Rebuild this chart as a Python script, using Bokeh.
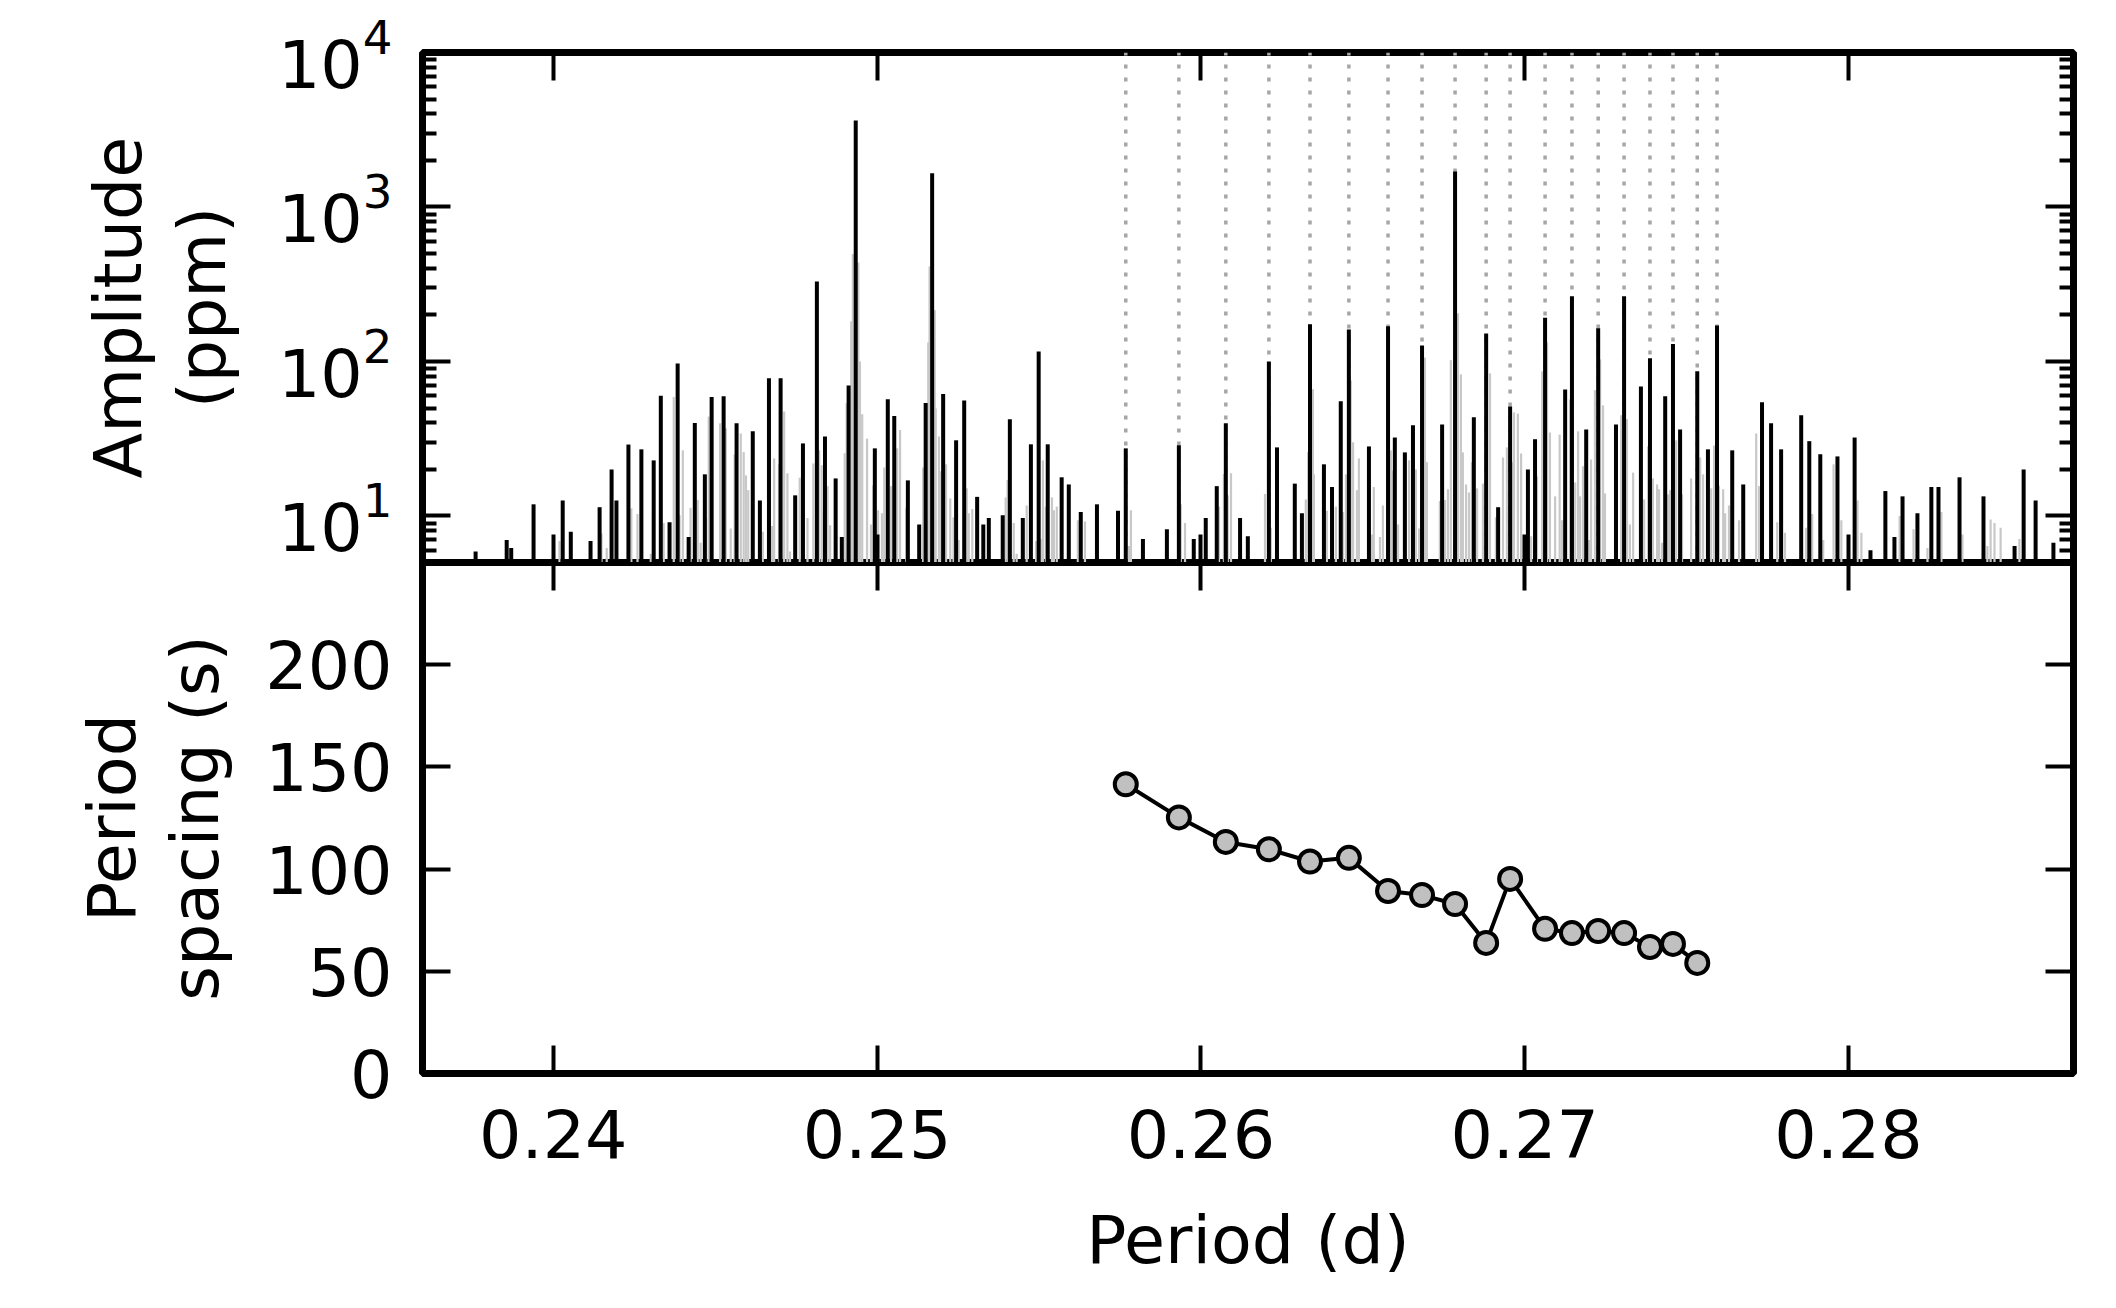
from bokeh.plotting import figure
from bokeh.layouts import column
from bokeh.models import Range1d, FixedTicker, LogAxis, LinearAxis, LogTickFormatter, ColumnDataSource
from bokeh.embed import file_html
from bokeh.resources import INLINE

# ---------------- data ----------------
# black sticks: extracted frequencies (period in d, amplitude in ppm)
black_period = [0.23760, 0.23856, 0.23870, 0.23939, 0.24029, 0.24054, 0.24115, 0.24143, 0.24180, 0.24195,
                0.24232, 0.24272, 0.24310, 0.24332, 0.24359, 0.24384, 0.24418, 0.24437, 0.24468,
                0.24489, 0.24526, 0.24566, 0.24616, 0.24638, 0.24666, 0.24702, 0.24747, 0.24771, 0.24814,
                0.24839, 0.24872, 0.24891, 0.24912, 0.24934, 0.24993, 0.25033, 0.25053, 0.25095, 0.25130,
                0.25150, 0.25170, 0.25204, 0.25244, 0.25269, 0.25309, 0.25328, 0.25345,
                0.25388, 0.25410, 0.25450, 0.25475, 0.25499, 0.25527, 0.25570, 0.25592, 0.25629, 0.25679,
                0.25744, 0.25768, 0.25821, 0.25895, 0.25932, 0.25978, 0.26015, 0.26049, 0.26077, 0.26121,
                0.26145, 0.26210,
                0.26235, 0.26290, 0.26312, 0.26337, 0.26380, 0.26405, 0.26432, 0.26457, 0.26519, 0.26578,
                0.26599, 0.26630, 0.26655, 0.26683, 0.26745, 0.26785, 0.26843, 0.26881, 0.26918, 0.26955,
                0.27010, 0.27032, 0.27063,
                0.27125, 0.27146, 0.27190, 0.27227, 0.27282, 0.27307, 0.27359, 0.27387, 0.27434, 0.27458,
                0.27480, 0.27533, 0.27566, 0.27594, 0.27641, 0.27675, 0.27733, 0.27761, 0.27792, 0.27854,
                0.27879, 0.27913,
                0.27966, 0.28019, 0.28068, 0.28114, 0.28142, 0.28167, 0.28213, 0.28256, 0.28278, 0.28343,
                0.28417, 0.28513, 0.28541, 0.28578, 0.28633]
black_amp = [5.9, 7.0, 6.2, 11.9, 12.6, 7.9, 6.9, 11.4, 20, 12.6,
             29, 27, 22.9, 60, 9.1, 97, 7.3, 40, 18.6,
             58.9, 59.5, 39.8, 35.3, 12.6, 77.8, 77.8, 13.6, 29.5, 330,
             32.7, 17.5, 7.3, 70, 3630, 27.4, 57, 44.4, 17, 8.8,
             53.8, 1655, 61.6, 30.9, 56, 13.3, 8.8, 9.7,
             10.1, 42.3, 9.7, 29.1, 116, 29.1, 17.8, 16, 10.6, 11.9,
             10.8, 27.4, 7.1, 8.2, 28.7, 7.1, 9.7, 15.6, 39.8, 9.7,
             7.4, 100,
             27.8, 16.2, 10.4, 174, 21.6, 15.4, 55.2, 161, 28.2, 169,
             32.2, 25.8, 38.6, 127, 39.1, 1700, 43.5, 152, 11.4, 51.2,
             20, 31.4, 192,
             65.8, 264, 36.3, 164, 39.1, 264, 68.8, 105, 59.5, 130,
             36.3, 86.5, 27, 171, 26.6, 16, 54.4, 39.8, 27, 44.9,
             30.5, 25.1,
             24.3, 32.2, 6.0, 14.5, 7.3, 13.4, 10.4, 15.4, 15.4, 17.8,
             13.4, 6.4, 20, 12.6, 6.7]

# light-grey sticks: residual / secondary peaks
grey_period = [0.24019, 0.24149, 0.24165, 0.24241, 0.24260, 0.24301, 0.24341, 0.24372, 0.24390, 0.24400,
               0.24424, 0.24446, 0.24455, 0.24472, 0.24480,
               0.24515, 0.24533, 0.24548, 0.24560, 0.24579, 0.24588, 0.24595, 0.24602, 0.24647, 0.24675,
               0.24682, 0.24697, 0.24713, 0.24723, 0.24731, 0.24761, 0.24785, 0.24803, 0.24821, 0.24829,
               0.24847, 0.24855, 0.24900, 0.24906, 0.24920, 0.24925, 0.24942, 0.24947, 0.24954, 0.24969,
               0.24981, 0.24988, 0.25003, 0.25015, 0.25022, 0.25043, 0.25062, 0.25071, 0.25090, 0.25142,
               0.25158, 0.25162, 0.25178, 0.25181, 0.25191, 0.25197, 0.25213, 0.25226, 0.25236, 0.25252,
               0.25277, 0.25283, 0.25294,
               0.25397, 0.25403, 0.25422, 0.25431, 0.25462, 0.25491, 0.25506, 0.25512, 0.25521, 0.25540,
               0.25546, 0.25555, 0.25620, 0.25642, 0.25778, 0.25784, 0.25938, 0.25951, 0.26056, 0.26071,
               0.26083, 0.26093, 0.26198,
               0.26216, 0.26324, 0.26331, 0.26346, 0.26349, 0.26389, 0.26417, 0.26439, 0.26448, 0.26463,
               0.26470, 0.26482, 0.26488, 0.26528, 0.26534, 0.26553, 0.26562, 0.26587, 0.26593, 0.26609,
               0.26643, 0.26664, 0.26674, 0.26692, 0.26698, 0.26738, 0.26754, 0.26763, 0.26772, 0.26794,
               0.26803, 0.26809, 0.26819, 0.26828, 0.26837, 0.26853, 0.26871, 0.26893, 0.26911, 0.26933,
               0.26945, 0.26961, 0.26967, 0.26979, 0.26989, 0.27020, 0.27038, 0.27054, 0.27069, 0.27078,
               0.27094, 0.27108, 0.27115, 0.27140, 0.27156, 0.27165, 0.27171, 0.27180, 0.27199, 0.27205,
               0.27217, 0.27233, 0.27242, 0.27248, 0.27298, 0.27316, 0.27325, 0.27335, 0.27369, 0.27381,
               0.27396, 0.27409, 0.27415, 0.27424, 0.27443, 0.27449, 0.27468, 0.27486, 0.27514, 0.27542,
               0.27551, 0.27576, 0.27585, 0.27600, 0.27613, 0.27619, 0.27631, 0.27662, 0.27715, 0.27724,
               0.27780, 0.27804, 0.27869, 0.27888, 0.27922,
               0.27954, 0.27978, 0.28028, 0.28040, 0.28158, 0.28201, 0.28244, 0.28287, 0.28352, 0.28429,
               0.28439, 0.28451, 0.28470, 0.28528]
grey_amp = [6.9, 7.7, 6.2, 11.2, 10.3, 5.7, 9.0, 58.9, 10.1, 26.6,
            11.3, 12.7, 6.7, 9.7, 44,
            39.8, 36.9, 8.3, 25.0, 34.2, 25.9, 18.3, 14.7, 7.9, 8.6,
            23.6, 21.6, 47.4, 18.9, 5.9, 17.7, 9.7, 21.9, 26.6, 21.3,
            15.6, 8.7, 25.5, 53.6, 182, 497, 438, 100, 45.6, 31.7,
            8.8, 15.8, 10.9, 10.4, 20.6, 15.6, 27.4, 36.0, 11.3, 20.6,
            133, 412, 215, 49.7, 32.7, 19.5, 21.6, 13.0, 9.8, 7.0,
            15.1, 10.4, 11.1,
            13.2, 17.1, 9.0, 5.7, 11.7, 6.9, 7.1, 22.9, 11.5, 13.2,
            10.9, 11.5, 9.4, 9.2, 6.4, 10.9, 11.9, 9.0, 11.5, 18.7,
            13.6, 18.9, 13.9,
            8.4, 12.8, 25.9, 66.2, 18.6, 10.8, 11.5, 10.6, 18.6, 75.3,
            30.0, 14.7, 23.6, 7.6, 15.4, 7.3, 11.7, 26.6, 19.7, 8.8,
            22.9, 20.0, 8.3, 106, 22.3, 12.5, 12.7, 14.9, 102, 205,
            82.6, 25.8, 16.0, 14.2, 22.3, 15.1, 16.2, 83.8, 9.8, 23.9,
            27.8, 22.3, 46.8, 46.0, 25.4, 7.4, 18.0, 86.5, 133, 34.7,
            13.4, 33.6, 9.4, 56.9, 16.5, 35.3, 13.4, 21.0, 7.0, 23.2,
            65.2, 103, 52.0, 14.0, 44.9, 42.3, 8.8, 19.1, 12.8, 28.2,
            17.5, 16.0, 14.9, 6.7, 13.8, 14.7, 30.9, 13.8, 17.5, 23.9,
            18.6, 15.1, 28.6, 15.7, 14.9, 10.4, 11.7, 9.4, 34.2, 15.6,
            9.1, 7.8, 8.4, 10.3, 7.0,
            21.6, 9.4, 12.6, 7.8, 10.0, 8.2, 6.2, 10.6, 7.6, 6.4,
            9.5, 9.0, 8.4, 7.1]

# modes of the period-spacing sequence (dotted lines) and their spacings
mode_period = [0.25768, 0.25932, 0.26077, 0.26210, 0.26337, 0.26457, 0.26578, 0.26683, 0.26785, 0.26881,
               0.26955, 0.27063, 0.27146, 0.27227, 0.27307, 0.27387, 0.27458, 0.27533, 0.27594]
spacing_s = [141.5, 125.3, 113.3, 109.7, 103.7, 105.5, 89.3, 87.3, 82.9, 63.9,
             95.2, 70.8, 68.7, 69.7, 68.7, 61.9, 63.4, 54.1]

x_ticks = [0.24, 0.25, 0.26, 0.27, 0.28]
amp_major = [10, 100, 1000, 10000]
amp_minor = [m * 10 ** k for k in range(0, 4) for m in range(2, 10) if 5 <= m * 10 ** k < 10000]
spacing_ticks = [0, 50, 100, 150, 200]

top_ylabel = "Amplitude\n(ppm)"
bottom_ylabel = "Period\nspacing (s)"
xlabel = "Period (d)"

X_MIN, X_MAX = 0.23596, 0.28695
AMP_MIN, AMP_MAX = 5, 1e4
SP_MIN, SP_MAX = 0, 250

# ---------------- layout / styling ----------------
FONT = "DejaVu Sans"
FS = "66.7px"
W = 2108
BORDER_L, BORDER_R = 422, 35
TOP_FRAME, TOP_BORDER, OVERLAP = 510, 52, 26
BOT_H, BOT_BORDER = 738, 227


def style_axis(ax, ticker, labels, standoff=30):
    ax.ticker = ticker
    ax.axis_line_color = None
    ax.major_tick_in = 28
    ax.major_tick_out = 0
    ax.minor_tick_in = 14
    ax.minor_tick_out = 0
    ax.major_tick_line_width = 4
    ax.minor_tick_line_width = 4
    ax.major_tick_line_color = "black"
    ax.minor_tick_line_color = "black"
    if labels:
        ax.major_label_text_font = FONT
        ax.major_label_text_font_size = FS
        ax.major_label_text_color = "black"
        ax.major_label_standoff = standoff
    else:
        ax.major_label_text_color = None
        ax.major_label_text_font_size = "0px"
        ax.major_label_standoff = 0


def style_label(ax, text, standoff):
    ax.axis_label = text
    ax.axis_label_text_font = FONT
    ax.axis_label_text_font_size = FS
    ax.axis_label_text_font_style = "normal"
    ax.axis_label_text_color = "black"
    ax.axis_label_text_line_height = 1.07
    ax.axis_label_standoff = standoff


def style_fig(p):
    p.xgrid.grid_line_color = None
    p.ygrid.grid_line_color = None
    p.outline_line_color = "black"
    p.outline_line_width = 7
    p.background_fill_color = "white"
    p.border_fill_color = "white"


x_range = Range1d(X_MIN, X_MAX)

# ---------------- top panel: amplitude spectrum ----------------
p1 = figure(width=W, height=TOP_BORDER + TOP_FRAME + OVERLAP, x_range=x_range,
            y_range=Range1d(AMP_MIN, AMP_MAX), y_axis_type="log",
            output_backend="svg", toolbar_location=None,
            min_border_left=BORDER_L, min_border_right=BORDER_R,
            min_border_top=TOP_BORDER, min_border_bottom=OVERLAP)
style_fig(p1)

dots = ColumnDataSource(dict(x=mode_period, y0=[AMP_MIN] * len(mode_period), y1=[AMP_MAX] * len(mode_period)))
p1.segment(x0="x", y0="y0", x1="x", y1="y1", source=dots, line_color="#a6a6a6",
           line_width=3.5, line_dash="4 9")

grey = ColumnDataSource(dict(x=grey_period, y0=[AMP_MIN] * len(grey_period), y1=grey_amp))
p1.segment(x0="x", y0="y0", x1="x", y1="y1", source=grey, line_color="#c8c8c8", line_width=2.2)

blk = ColumnDataSource(dict(x=black_period, y0=[AMP_MIN] * len(black_period), y1=black_amp))
p1.segment(x0="x", y0="y0", x1="x", y1="y1", source=blk, line_color="black", line_width=4)

style_axis(p1.xaxis[0], FixedTicker(ticks=x_ticks, minor_ticks=[]), labels=False)
style_axis(p1.yaxis[0], FixedTicker(ticks=amp_major, minor_ticks=amp_minor), labels=True, standoff=30)
p1.yaxis[0].formatter = LogTickFormatter()
style_label(p1.yaxis[0], top_ylabel, 34)

ax_top = LinearAxis()
style_axis(ax_top, FixedTicker(ticks=x_ticks, minor_ticks=[]), labels=False)
p1.add_layout(ax_top, "above")
ax_r1 = LogAxis()
style_axis(ax_r1, FixedTicker(ticks=amp_major, minor_ticks=amp_minor), labels=False)
p1.add_layout(ax_r1, "right")

# ---------------- bottom panel: period spacing ----------------
p2 = figure(width=W, height=BOT_H, x_range=x_range, y_range=Range1d(SP_MIN, SP_MAX),
            output_backend="svg", toolbar_location=None,
            min_border_left=BORDER_L, min_border_right=BORDER_R, min_border_top=0,
            min_border_bottom=BOT_BORDER)
style_fig(p2)
p2.border_fill_alpha = 0
p2.margin = (-OVERLAP, 0, 0, 0)

sp = ColumnDataSource(dict(x=mode_period[:-1], y=spacing_s))
p2.line(x="x", y="y", source=sp, line_color="black", line_width=4)
p2.scatter(x="x", y="y", source=sp, size=22, fill_color="#c0c0c0", line_color="black", line_width=4)

style_axis(p2.xaxis[0], FixedTicker(ticks=x_ticks, minor_ticks=[]), labels=True, standoff=35)
style_label(p2.xaxis[0], xlabel, 40)
style_axis(p2.yaxis[0], FixedTicker(ticks=spacing_ticks, minor_ticks=[]), labels=True, standoff=30)
style_label(p2.yaxis[0], bottom_ylabel, 28)

ax_top2 = LinearAxis()
style_axis(ax_top2, FixedTicker(ticks=x_ticks, minor_ticks=[]), labels=False)
p2.add_layout(ax_top2, "above")
ax_r2 = LinearAxis()
style_axis(ax_r2, FixedTicker(ticks=spacing_ticks, minor_ticks=[]), labels=False)
p2.add_layout(ax_r2, "right")

layout = column(p1, p2, spacing=0)

open("out.html", "w").write(file_html(layout, INLINE))
